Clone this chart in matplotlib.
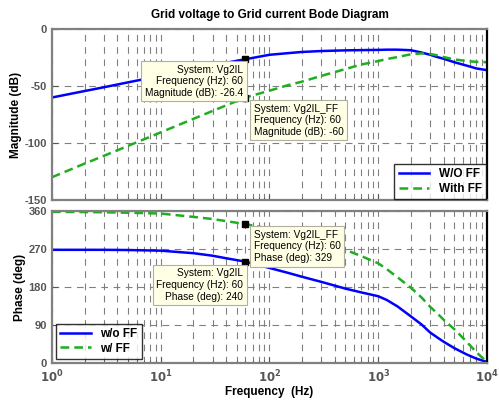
import matplotlib
matplotlib.use("Agg")
import matplotlib.pyplot as plt
from matplotlib.ticker import LogLocator, NullFormatter

plt.rcParams['font.family'] = ['Liberation Sans', 'DejaVu Sans']
plt.rcParams['axes.unicode_minus'] = False

# frequency points (Hz)
freq = [1, 2, 3, 5, 10, 20, 30, 40, 60, 100, 150, 200, 300, 500, 700,
        1000, 1200, 1500, 2000, 2500, 3000, 3500, 4000, 5000, 6500, 8000, 10000]

# magnitude (dB)
mag_wo = [-60, -54.3, -51, -46.7, -41, -35.3, -32, -29.5, -26.4, -22.5, -21, -20,
          -19.2, -18.6, -18.4, -18.2, -18, -18, -18.5, -20.5, -22.5, -24.5, -26,
          -29, -32, -34.5, -36]
mag_w = [-130, -118, -111.2, -102.5, -90.6, -78.7, -71.8, -66.9, -60, -54, -49, -46,
         -41, -35, -31, -28, -26.2, -24.5, -22, -21.3, -21.8, -23, -24.5, -26.5,
         -28, -28.7, -29]

# phase (deg)
ph_wo = [268, 268, 268, 267.5, 266, 260, 254, 248, 240, 225, 213, 204, 192, 176,
         167, 158, 149, 134, 110, 91, 72, 60, 50, 35, 20, 10, 2]
ph_w = [358, 357.5, 357, 356, 354, 346, 341, 336, 329, 318, 308, 300, 287, 268,
        253, 236, 222, 203, 178, 155, 133, 117, 102, 80, 50, 25, 2]

tip_f = 60
tip_mag = (-26.4, -60)
tip_ph = (240, 329)

BLUE = '#0000ff'
GREEN = '#1fae1f'
GRAY = '#808080'
TICKC = '#555555'

fig = plt.figure(figsize=(4.99, 4.05), dpi=100)
ax1 = fig.add_axes([0.104, 0.506, 0.872, 0.422])
ax2 = fig.add_axes([0.104, 0.104, 0.872, 0.375])


def style(ax):
    ax.set_xscale('log')
    ax.set_xlim(1, 1e4)
    ax.xaxis.set_major_locator(LogLocator(base=10))
    ax.xaxis.set_minor_locator(LogLocator(base=10, subs=range(2, 10)))
    ax.xaxis.set_minor_formatter(NullFormatter())
    ax.grid(True, which='both', axis='x', color=GRAY, linestyle=(0, (6, 5)), linewidth=0.8)
    ax.grid(True, which='major', axis='y', color=GRAY, linestyle=(0, (6, 5)), linewidth=0.8)
    for s in ['left', 'top', 'bottom']:
        ax.spines[s].set_color(GRAY)
        ax.spines[s].set_linewidth(1.6)
    ax.spines['right'].set_color('black')
    ax.spines['right'].set_linewidth(1.6)
    ax.tick_params(which='both', direction='in', colors=TICKC, labelsize=8)
    ax.tick_params(which='major', length=4)
    ax.tick_params(which='minor', length=2)
    for lab in ax.get_yticklabels():
        lab.set_fontweight('bold')


box = dict(boxstyle='square,pad=0.35', fc='#ffffe6', ec='#b0b0a0', lw=0.8)
tipfs = 7.3
tipls = 1.2

# magnitude
ax1.plot(freq, mag_wo, color=BLUE, lw=1.8, label='W/O FF')
ax1.plot(freq, mag_w, color=GREEN, lw=1.8, ls=(0, (3.5, 2)), label='With FF')
ax1.set_ylim(-150, 0)
ax1.set_yticks([-150, -100, -50, 0])
style(ax1)
ax1.tick_params(axis='x', labelbottom=False)
ax1.set_ylabel('Magnitude (dB)', fontsize=8.5, fontweight='bold', labelpad=2)
ax1.plot([tip_f, tip_f], tip_mag, ls='none', marker='s', ms=4, color='black')
ax1.set_title('Grid voltage to Grid current Bode Diagram', fontsize=8.5,
              fontweight='bold', pad=8)
leg1 = ax1.legend(loc='lower right', fontsize=8.5, frameon=True, fancybox=False,
                  borderaxespad=0.1, handlelength=2.6, borderpad=0.35, labelspacing=0.2)
leg1.get_frame().set_edgecolor('black')
leg1.get_frame().set_linewidth(1.0)
for t in leg1.get_texts():
    t.set_fontweight('bold')

ax1.text((243 - 52) / 435, (200 - 81) / 171,
         'System: Vg2IL\nFrequency (Hz): 60\nMagnitude (dB): -26.4',
         transform=ax1.transAxes, ha='right', va='center', ma='right',
         fontsize=tipfs, bbox=box, linespacing=tipls)
ax1.text((254 - 52) / 435, (200 - 120) / 171,
         'System: Vg2IL_FF\nFrequency (Hz): 60\nMagnitude (dB): -60',
         transform=ax1.transAxes, ha='left', va='center', ma='left',
         fontsize=tipfs, bbox=box, linespacing=tipls)

# phase
ax2.plot(freq, ph_wo, color=BLUE, lw=1.8, label='w/o FF')
ax2.plot(freq, ph_w, color=GREEN, lw=1.8, ls=(0, (3.5, 2)), label='w/ FF')
ax2.set_ylim(0, 360)
ax2.set_yticks([0, 90, 180, 270, 360])
style(ax2)
ax2.set_xticks([1, 10, 100, 1000, 10000])
ax2.set_xticklabels([r'$\mathbf{10^{0}}$', r'$\mathbf{10^{1}}$', r'$\mathbf{10^{2}}$',
                     r'$\mathbf{10^{3}}$', r'$\mathbf{10^{4}}$'])
ax2.tick_params(axis='x', labelsize=8.5, pad=4)
ax2.set_ylabel('Phase (deg)', fontsize=8.5, fontweight='bold', labelpad=2)
ax2.set_xlabel('Frequency  (Hz)', fontsize=8.5, fontweight='bold', labelpad=1)
ax2.plot([tip_f, tip_f], tip_ph, ls='none', marker='s', ms=4, color='black')
leg2 = ax2.legend(loc='lower left', fontsize=8.5, frameon=True, fancybox=False,
                  borderaxespad=0.35, handlelength=2.6, borderpad=0.35, labelspacing=0.2)
leg2.get_frame().set_edgecolor('black')
leg2.get_frame().set_linewidth(1.0)
for t in leg2.get_texts():
    t.set_fontweight('bold')

ax2.text((254 - 52) / 435, (363 - 246.5) / 152,
         'System: Vg2IL_FF\nFrequency (Hz): 60\nPhase (deg): 329',
         transform=ax2.transAxes, ha='left', va='center', ma='left',
         fontsize=tipfs, bbox=box, linespacing=tipls)
ax2.text((243 - 52) / 435, (363 - 285) / 152,
         'System: Vg2IL\nFrequency (Hz): 60\nPhase (deg): 240',
         transform=ax2.transAxes, ha='right', va='center', ma='right',
         fontsize=tipfs, bbox=box, linespacing=tipls)

fig.savefig('out.png', dpi=100)
